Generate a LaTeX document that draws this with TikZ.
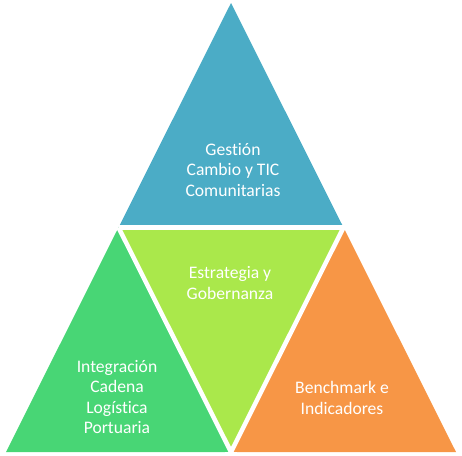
\documentclass[tikz,border=0pt]{standalone}
\usepackage{fontspec}
\setmainfont[RawFeature={-liga;-dlig}]{Carlito}
\definecolor{cblue}{RGB}{75,172,198}
\definecolor{clime}{RGB}{170,232,75}
\definecolor{cgreen}{RGB}{72,214,117}
\definecolor{corange}{RGB}{247,150,70}
\begin{document}
\begin{tikzpicture}[x=1pt,y=-1pt,
  lbl/.style={text=white,align=center,font=\fontsize{17.6}{20.5}\selectfont,inner sep=0pt},
  gap/.style={draw=white,line width=4.5pt}]
\useasboundingbox (0,0) rectangle (462,455);
\coordinate (A) at (231,3);
\coordinate (B) at (6,452);
\coordinate (C) at (456,452);
\coordinate (AB) at (118.5,227.5);
\coordinate (AC) at (343.5,227.5);
\coordinate (BC) at (231,452);
\fill[cblue] (A) -- (AB) -- (AC) -- cycle;
\fill[cgreen] (AB) -- (B) -- (BC) -- cycle;
\fill[clime] (AB) -- (AC) -- (BC) -- cycle;
\fill[corange] (AC) -- (BC) -- (C) -- cycle;
\draw[gap] (AB) -- (AC);
\draw[gap] (AB) -- (BC) -- (AC);
\fill[white] (BC) ++(-6,0) -- ++(12,0) -- ++(0,5) -- ++(-12,0) -- cycle;
\node[lbl] (t) at (233,170) {Gestión\\Cambio y TIC\\Comunitarias};
\node[lbl] (m) at (230,283) {Estrategia y\\Gobernanza};
\node[lbl] (l) at (117,397) {Integración\\Cadena\\Logística\\Portuaria};
\node[lbl] (r) at (342,398) {Benchmark e\\Indicadores};
\end{tikzpicture}
\end{document}
